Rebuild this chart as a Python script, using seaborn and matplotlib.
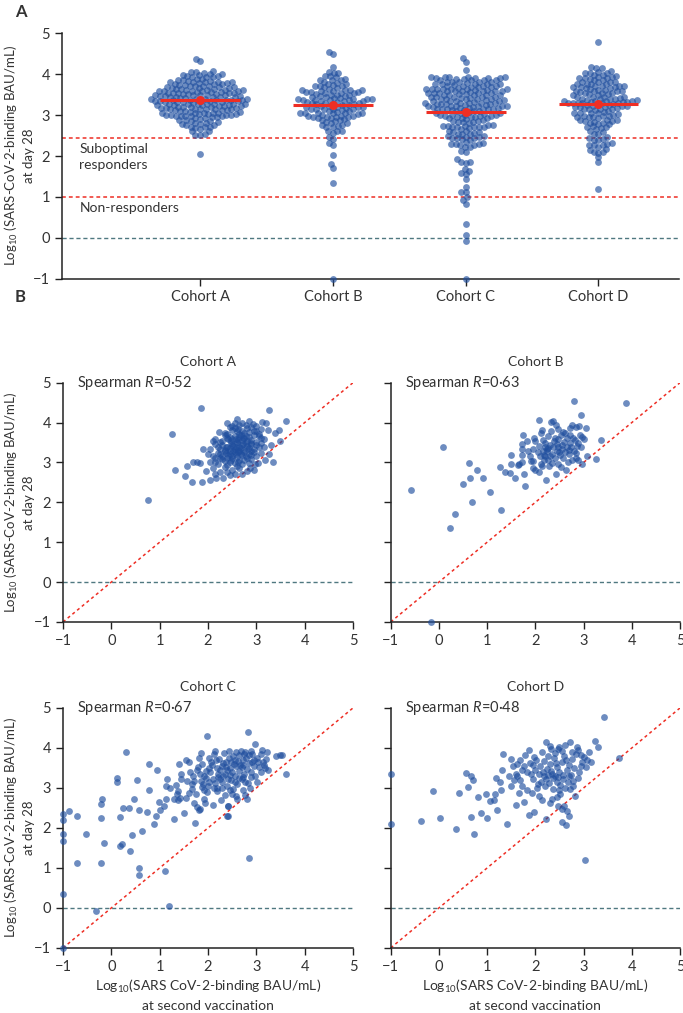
import numpy as np
import pandas as pd
import matplotlib
matplotlib.use("Agg")
import matplotlib.pyplot as plt
import seaborn as sns

cohorts = ["Cohort A", "Cohort B", "Cohort C", "Cohort D"]

# ---------------- data (log10 BAU/mL): second vaccination (x) and day 28 (y) ----------------
a_second = [0.75, 1.26, 1.85, 3.27, 3.62, 1.31, 1.53, 1.66, 1.87, 1.57,
            1.70, 1.78, 1.84, 1.90, 2.22, 2.32, 2.16, 2.70, 2.87, 2.98,
            3.04, 3.18, 3.27, 3.39, 3.46, 3.11, 3.20, 2.56, 2.79, 2.94,
            2.05, 2.45, 1.95, 2.60, 2.40, 3.50, 3.30, 2.10, 2.00, 3.35,
            2.25, 2.50, 2.65, 2.35, 2.80, 2.10, 2.55, 2.95, 2.40, 2.15,
            2.20, 2.45, 2.60, 2.75, 2.30, 2.05, 2.50, 2.85, 2.40, 2.65,
            2.15, 2.55, 2.90, 2.35, 2.70, 2.25, 2.48, 2.62,
            2.10, 2.25, 2.40, 2.55, 2.70, 2.85, 3.00, 2.35, 2.50, 2.65,
            2.80, 2.95, 2.20, 2.45, 2.60, 2.75, 2.90, 3.10, 2.30, 2.58,
            2.68, 2.42, 2.52, 2.78, 2.88, 2.15, 2.62, 2.38,
            2.05, 2.20, 2.35, 2.50, 2.65, 2.80, 2.95, 3.10, 2.30, 2.45,
            2.60, 2.75, 2.90, 3.05, 2.15, 2.40, 2.55, 2.70, 2.85, 3.00,
            2.25, 2.48, 2.58, 2.68, 2.78, 2.38, 2.62, 2.72, 2.52, 2.82,
            2.45, 3.15,
            2.15, 2.30, 2.45, 2.60, 2.75, 2.90, 3.05, 2.35, 2.50, 2.65,
            2.80, 2.95, 3.15, 2.25, 2.40, 2.55, 2.70, 2.85, 3.00, 2.58,
            2.68, 2.48, 2.78, 2.62, 2.72, 2.88, 2.42, 3.10,
            2.35, 2.50, 2.65, 2.80, 2.95, 3.10, 2.45, 2.60, 2.75, 2.90,
            3.05, 2.55, 2.70, 2.85, 3.25, 2.40, 2.62, 3.00,
            2.65, 2.85, 2.70, 2.50, 3.00]
a_day28 = [2.05, 3.71, 4.36, 4.32, 4.05, 2.81, 2.66, 2.52, 2.52, 2.91,
           3.01, 3.02, 2.99, 3.33, 3.76, 2.60, 2.61, 2.70, 2.87, 2.97,
           2.99, 3.06, 3.21, 3.73, 3.81, 4.02, 3.98, 3.99, 3.93, 3.96,
           2.55, 2.68, 2.78, 4.08, 4.00, 3.55, 3.45, 3.55, 3.20, 3.00,
           2.75, 2.80, 2.85, 2.88, 2.78, 2.85, 2.72, 2.82, 2.76, 2.72,
           2.95, 3.00, 2.92, 3.05, 3.08, 3.02, 3.10, 2.98, 2.94, 3.06,
           3.00, 2.98, 3.08, 3.04, 2.95, 3.10, 3.06, 3.02,
           3.15, 3.20, 3.12, 3.25, 3.18, 3.22, 3.15, 3.28, 3.16, 3.28,
           3.12, 3.26, 3.24, 3.22, 3.14, 3.26, 3.18, 3.24, 3.16, 3.20,
           3.22, 3.18, 3.28, 3.15, 3.28, 3.12, 3.26, 3.24,
           3.35, 3.40, 3.32, 3.45, 3.38, 3.42, 3.35, 3.48, 3.44, 3.36,
           3.48, 3.32, 3.46, 3.38, 3.46, 3.40, 3.34, 3.44, 3.36, 3.44,
           3.34, 3.48, 3.40, 3.36, 3.48, 3.38, 3.32, 3.46, 3.42, 3.34,
           3.30, 3.40,
           3.60, 3.55, 3.65, 3.52, 3.62, 3.56, 3.66, 3.68, 3.58, 3.64,
           3.54, 3.68, 3.58, 3.52, 3.62, 3.66, 3.56, 3.64, 3.52, 3.60,
           3.68, 3.54, 3.66, 3.56, 3.62, 3.50, 3.58, 3.62,
           3.75, 3.82, 3.72, 3.86, 3.78, 3.84, 3.88, 3.78, 3.74, 3.88,
           3.72, 3.86, 3.80, 3.76, 3.82, 3.72, 3.84, 3.80,
           3.95, 4.05, 4.00, 3.92, 3.92]

b_second = [2.80, 3.87, 2.94, 2.08, 2.33, 2.36, 2.14, 1.75, 0.09, -0.58,
            0.23, 0.34, 0.68, 0.49, 0.62, 0.65, 0.78, 0.92, 1.06, 1.28,
            1.26, 1.37, 1.48, 1.57, 1.49, 1.50, 1.65, 1.67, 1.73, 1.73,
            1.77, 1.79, 1.72, 1.73, 1.88, 1.91, 1.96, 1.95, 1.95, 1.99,
            2.08, 2.07, 2.12, 2.13, 2.16, 2.21, 2.24, 2.27, 2.22, 2.10,
            2.17, 2.20, 2.27, 2.31, 2.34, 2.41, 2.42, 2.47, 2.48, 2.50,
            2.55, 2.53, 2.58, 2.44, 2.65, 2.69, 2.71, 2.72, 2.77, 2.85,
            2.91, 2.79, 2.82, 2.76, 2.89, 2.96, 2.86, 2.85, 2.97, 3.00,
            3.05, 3.07, 3.25, 3.36, -0.17,
            2.25, 2.30, 2.35, 2.38, 2.45, 2.52, 2.56, 2.60, 2.62, 2.66,
            2.70, 2.74, 2.80, 2.88, 2.92, 2.40, 2.20, 2.15, 2.05, 2.00,
            2.32, 2.48, 2.62, 2.36, 2.58, 2.28, 2.18, 1.85, 2.68, 2.54,
            2.84, 2.95, 2.46, 2.26, 1.98, 2.72, 2.42, 2.12, 1.82, 2.64]
b_day28 = [4.55, 4.49, 4.18, 4.06, 4.02, 4.03, 3.82, 3.70, 3.40, 2.31,
           1.35, 1.71, 2.02, 2.47, 2.99, 2.61, 2.80, 2.62, 2.26, 1.81,
           2.88, 2.75, 2.73, 2.60, 2.97, 3.19, 2.93, 2.96, 3.02, 3.19,
           2.70, 2.42, 3.35, 3.46, 3.16, 3.04, 3.04, 3.35, 2.85, 2.80,
           2.75, 3.42, 2.96, 2.92, 3.57, 3.40, 3.33, 3.36, 2.56, 3.15,
           3.19, 3.15, 3.06, 3.15, 2.98, 3.62, 2.70, 2.96, 3.40, 3.27,
           3.44, 3.70, 3.76, 3.46, 3.40, 3.31, 3.50, 3.87, 3.95, 3.89,
           3.92, 3.61, 3.56, 3.06, 3.06, 2.96, 3.41, 3.23, 3.63, 3.58,
           3.86, 3.15, 3.08, 3.56, -1.00,
           3.28, 3.45, 3.22, 3.55, 3.30, 3.18, 3.35, 3.52, 3.25, 3.62,
           3.20, 3.38, 3.30, 3.50, 3.70, 3.10, 3.50, 3.30, 3.25, 3.55,
           3.78, 3.85, 3.74, 3.38, 3.10, 2.90, 3.05, 3.28, 3.00, 2.88,
           3.12, 3.38, 3.60, 3.66, 3.62, 3.68, 3.95, 3.75, 3.55, 2.82]

c_second = [1.99, 2.83, 0.30, 2.97, 0.79, 0.94, 0.11, 0.11, 0.54, 0.77,
            -0.19, -0.22, -0.88, -0.99, -0.99, -0.71, -0.22, 0.17, 0.25, 0.36,
            0.58, 0.46, 0.74, 0.64, 0.43, 0.89, 0.92, -0.99, -0.99, -0.52,
            -0.16, 0.18, 0.23, 0.38, -0.71, -0.22, 0.58, 0.58, 1.11, 2.84,
            -0.99, -0.32, 1.20, -1.00, 0.98, 1.01, 1.08, 1.13, 1.16, 1.14,
            1.21, 1.30, 1.30, 1.35, 1.37, 1.39, 1.42, 1.34, 1.44, 1.44,
            1.41, 1.55, 1.61, 1.57, 1.51, 1.55, 1.67, 1.71, 1.74, 1.82,
            1.82, 1.80, 1.84, 1.85, 1.87, 1.90, 1.91, 1.92, 1.96, 2.02,
            2.03, 2.10, 2.13, 2.14, 2.16, 2.18, 2.21, 2.25, 2.30, 2.31,
            2.35, 2.37, 2.39, 2.41, 2.42, 2.42, 2.46, 2.47, 2.49, 2.52,
            2.54, 2.56, 2.59, 2.61, 2.64, 2.70, 2.72, 2.73, 2.73, 2.77,
            2.80, 2.77, 2.84, 2.90, 2.92, 2.89, 3.01, 3.04, 3.09, 3.12,
            3.15, 3.20, 3.25, 3.41, 3.49, 3.54, 3.61, 1.77, 1.84, 2.10,
            2.19, 2.42, 2.39,
            1.70, 1.78, 1.88, 1.95, 2.00, 2.05, 2.08, 2.12, 2.15, 2.20,
            2.22, 2.25, 2.28, 2.30, 2.33, 2.36, 2.40, 2.43, 2.45, 2.48,
            2.50, 2.52, 2.55, 2.58, 2.60, 2.62, 2.65, 2.68, 2.70, 2.72,
            2.75, 2.78, 2.80, 2.82, 2.85, 2.88, 2.92, 2.95, 2.98, 3.02,
            3.06, 3.10, 3.14, 3.18, 3.22, 1.60, 1.66, 1.75, 1.92, 1.98,
            2.06, 2.18, 2.26, 2.32, 2.38, 2.46, 2.56, 2.64, 2.74, 2.86,
            1.62, 1.86, 2.02, 2.44, 2.58, 2.66, 2.76, 2.96, 1.72, 1.94]
c_day28 = [4.30, 4.39, 3.91, 4.11, 3.59, 3.44, 3.26, 3.16, 3.21, 2.94,
           2.72, 2.59, 2.43, 2.34, 2.21, 2.29, 2.26, 2.27, 2.50, 2.49,
           2.45, 2.73, 2.41, 1.92, 1.82, 2.10, 2.29, 1.85, 1.67, 1.86,
           1.63, 1.55, 1.59, 1.43, 1.13, 1.13, 1.00, 0.82, 0.92, 1.25,
           0.34, -0.07, 0.06, -1.00, 2.65, 2.46, 2.56, 2.72, 3.22, 3.04,
           2.99, 2.22, 2.73, 2.84, 2.92, 2.69, 2.76, 3.07, 3.34, 3.23,
           3.59, 3.69, 3.64, 3.17, 2.38, 2.76, 2.98, 3.18, 2.13, 2.44,
           3.76, 3.52, 3.36, 3.17, 3.03, 3.11, 2.96, 2.73, 3.42, 3.76,
           3.15, 2.58, 3.01, 3.92, 3.71, 3.50, 3.36, 3.23, 3.01, 3.63,
           2.83, 3.53, 3.44, 2.55, 2.30, 3.22, 3.32, 3.64, 2.86, 2.98,
           3.61, 3.15, 3.90, 2.72, 3.82, 3.53, 3.69, 3.28, 2.96, 2.83,
           2.72, 3.90, 3.82, 3.92, 3.65, 3.28, 3.15, 3.65, 3.40, 3.94,
           3.57, 3.73, 3.44, 3.79, 3.82, 3.82, 3.34, 2.53, 2.47, 3.22,
           3.01, 2.54, 2.31,
           3.30, 3.45, 3.60, 3.25, 3.05, 3.40, 3.58, 3.85, 3.12, 3.28,
           3.72, 3.45, 3.15, 3.55, 3.88, 3.35, 3.05, 3.75, 3.50, 3.20,
           3.40, 3.80, 3.30, 3.55, 3.10, 3.68, 3.42, 3.92, 3.22, 3.58,
           3.35, 3.75, 3.48, 3.12, 3.62, 3.40, 3.85, 3.55, 3.30, 3.75,
           3.52, 3.86, 3.66, 3.50, 3.90, 2.88, 3.10, 2.85, 3.30, 2.90,
           3.65, 2.92, 2.70, 3.30, 3.65, 2.95, 3.70, 3.25, 3.85, 3.00,
           3.40, 3.88, 3.50, 3.92, 2.80, 3.58, 3.15, 3.70, 2.62, 2.62]

d_second = [3.43, -1.00, -1.00, 3.02, 3.74, 3.23, 3.29, 2.71, 2.22, 2.31,
            2.33, 2.49, 2.86, 2.89, 2.14, 1.97, 2.02, 1.32, 1.49, 1.68,
            1.54, 1.63, 1.76, 1.82, 1.90, 1.96, 1.56, 1.63, 1.68, 1.30,
            1.18, 1.27, 1.72, 1.82, 1.93, 2.03, 1.66, 1.77, 1.59, 1.87,
            1.41, 2.13, 2.35, 2.44, 2.52, 2.60, 2.55, 2.65, 2.22, 2.64,
            2.82, 2.72, 2.79, 2.74, 2.94, 2.96, 3.07, 3.16, 3.01, 2.08,
            2.17, 2.22, 2.27, 2.34, 2.40, 0.56, 0.67, 0.70, 0.61, 0.42,
            -0.13, 0.81, 0.97, 1.06, 1.16, 1.14, 1.20, 1.28, -0.38, 0.02,
            0.36, 0.73, 0.67, 0.87, 0.99,
            2.10, 2.18, 2.25, 2.30, 2.38, 2.45, 2.50, 2.55, 2.60, 2.65,
            2.70, 2.75, 2.80, 2.85, 2.90, 2.20, 2.28, 2.36, 2.44, 2.52,
            2.58, 2.62, 2.68, 2.48, 2.12, 2.00, 1.88, 1.78, 1.86, 2.40,
            2.56, 2.64, 2.76, 2.95, 3.05, 3.12, 2.32, 2.42, 2.58, 2.70,
            2.05, 1.95, 1.72, 1.60, 1.45, 2.26, 2.46, 2.62, 2.16, 2.36,
            2.50, 2.78, 2.88, 1.50, 2.08, 2.30, 2.46, 2.70, 2.56, 1.98]
d_day28 = [4.78, 3.35, 2.09, 1.19, 3.75, 4.17, 4.02, 4.16, 4.14, 4.06,
           3.97, 4.03, 4.02, 3.94, 3.91, 3.77, 3.69, 3.86, 3.72, 3.70,
           3.54, 3.60, 3.56, 3.40, 3.35, 3.22, 3.19, 3.29, 3.19, 3.44,
           3.24, 3.16, 3.04, 2.95, 2.88, 2.99, 2.88, 2.65, 2.58, 2.32,
           2.09, 2.70, 2.73, 2.78, 2.85, 2.55, 2.47, 2.42, 2.23, 2.08,
           2.81, 2.97, 3.18, 3.33, 3.55, 3.66, 3.69, 3.66, 3.77, 3.34,
           3.29, 3.22, 3.33, 3.35, 3.29, 3.38, 3.29, 3.19, 3.02, 2.88,
           2.92, 2.78, 2.86, 2.68, 2.84, 2.70, 2.44, 2.95, 2.18, 2.26,
           1.97, 1.86, 2.28, 2.38, 2.26,
           3.55, 3.68, 3.48, 3.60, 3.75, 3.52, 3.40, 3.65, 3.80, 3.45,
           3.58, 3.72, 3.50, 3.85, 3.40, 3.05, 3.12, 2.98, 3.15, 3.08,
           3.22, 3.00, 3.15, 3.28, 3.15, 3.45, 3.62, 3.82, 3.95, 3.88,
           3.92, 3.70, 3.90, 3.82, 3.52, 3.90, 3.42, 3.62, 3.32, 3.30,
           3.10, 3.58, 3.45, 3.36, 3.30, 3.80, 3.98, 4.08, 3.40, 3.25,
           2.95, 3.05, 3.25, 3.05, 2.80, 2.62, 2.55, 2.30, 2.15, 2.40]

medians = [3.37, 3.25, 3.07, 3.28]
spearman_r = ["0·52", "0·63", "0·67", "0·48"]
suboptimal_cut = 2.45
nonresponder_cut = 1.0

# ---------------- style ----------------
sns.set_theme(style="ticks")
plt.rcParams["font.family"] = ["Lato", "DejaVu Sans"]
plt.rcParams["mathtext.fontset"] = "custom"
plt.rcParams["mathtext.rm"] = "Lato"
plt.rcParams["mathtext.it"] = "Lato:italic"
plt.rcParams["mathtext.bf"] = "Lato:bold"
plt.rcParams["axes.edgecolor"] = "#222222"
plt.rcParams["xtick.color"] = "#222222"
plt.rcParams["ytick.color"] = "#222222"

pt_color = "#1f4e9e"
pt_alpha = 0.65
red = "#ee2e24"
teal = "#4f7880"
txt = "#333333"
fs = 10.5
fl = 10
fy = 9.5

seconds = [a_second, b_second, c_second, d_second]
day28s = [a_day28, b_day28, c_day28, d_day28]
df = pd.concat([pd.DataFrame({"cohort": c, "second": s, "day28": d})
                for c, s, d in zip(cohorts, seconds, day28s)], ignore_index=True)

ylab = "Log$_{10}$ (SARS-CoV-2-binding BAU/mL)\nat day 28"
xlab = "Log$_{10}$(SARS CoV-2-binding BAU/mL)\nat second vaccination"

fig = plt.figure(figsize=(6.83, 10.13), dpi=100)

# ---------------- panel A ----------------
axA = fig.add_axes([0.0908, 0.7249, 0.904, 0.2422])
sns.swarmplot(data=df, x="cohort", y="day28", order=cohorts, color=pt_color,
              size=3.3, alpha=pt_alpha, linewidth=0, ax=axA, zorder=3)
axA.axhline(suboptimal_cut, color=red, ls=(0, (2.5, 2)), lw=1.1, zorder=1)
axA.axhline(nonresponder_cut, color=red, ls=(0, (2.5, 2)), lw=1.1, zorder=1)
axA.axhline(0, color=teal, ls=(0, (3, 2)), lw=1.0, zorder=1)
for i, m in enumerate(medians):
    axA.hlines(m, i - 0.3, i + 0.3, color=red, lw=2.2, zorder=5)
axA.scatter(range(len(medians)), medians, s=42, color=red, zorder=6, linewidth=0)
axA.set_xlim(-1.04, 3.61)
axA.set_ylim(-1, 5)
axA.set_yticks(range(-1, 6))
axA.set_xlabel("")
axA.set_ylabel(ylab, fontsize=fy, color=txt, linespacing=1.3)
axA.yaxis.set_label_coords(-0.044, 0.5)
axA.text(-0.91, 1.97, "Suboptimal\nresponders", fontsize=fl, color=txt, va="center",
         ha="left", linespacing=1.4)
axA.text(-0.91, 0.73, "Non-responders", fontsize=fl, color=txt, va="center", ha="left")
axA.tick_params(labelsize=fs, colors="#222222", labelcolor=txt, length=5, width=1)
sns.despine(ax=axA)
for sp in axA.spines.values():
    sp.set_linewidth(1.1)

# ---------------- panel B ----------------
positions = [[0.0922, 0.3860, 0.4246, 0.2362],
             [0.5720, 0.3860, 0.4236, 0.2362],
             [0.0922, 0.0642, 0.4246, 0.2369],
             [0.5720, 0.0642, 0.4236, 0.2369]]
for k, (c, pos) in enumerate(zip(cohorts, positions)):
    ax = fig.add_axes(pos)
    sub = df[df["cohort"] == c]
    ax.plot([-1, 5], [-1, 5], color=red, ls=(0, (2, 2)), lw=1.1, zorder=1)
    ax.axhline(0, color=teal, ls=(0, (3, 2)), lw=1.0, zorder=1)
    sns.scatterplot(data=sub, x="second", y="day28", color=pt_color, s=24,
                    alpha=pt_alpha, linewidth=0, ax=ax, clip_on=False, zorder=3)
    ax.set_xlim(-1, 5)
    ax.set_ylim(-1, 5)
    ax.set_xticks(range(-1, 6))
    ax.set_yticks(range(-1, 6))
    ax.set_title(c, fontsize=fl, color=txt, pad=12)
    ax.text(0.05, 1.0, "Spearman $\\mathit{R}$=" + spearman_r[k], transform=ax.transAxes,
            fontsize=10.5, color=txt, va="center", ha="left")
    ax.tick_params(labelsize=fs, colors="#222222", labelcolor=txt, length=5, width=1)
    if k % 2 == 1:
        ax.set_yticklabels([])
        ax.set_ylabel("")
    else:
        ax.set_ylabel(ylab, fontsize=fy, color=txt, linespacing=1.3)
        ax.yaxis.set_label_coords(-0.097, 0.5)
    if k >= 2:
        ax.set_xlabel(xlab, fontsize=fl, color=txt, labelpad=3, linespacing=1.5)
    else:
        ax.set_xlabel("")
    sns.despine(ax=ax)
    for sp in ax.spines.values():
        sp.set_linewidth(1.1)

fig.text(0.022, 0.988, "A", fontsize=12, fontweight="bold", color=txt, va="center")
fig.text(0.022, 0.707, "B", fontsize=12, fontweight="bold", color=txt, va="center")

# lay out the swarm with compact markers, then enlarge markers so they overlap as in the original
fig.canvas.draw()
for coll in axA.collections[:4]:
    if "draw" in coll.__dict__:
        del coll.__dict__["draw"]
    coll.set_sizes([24])
    coll.set_clip_on(False)

fig.savefig("out.png", dpi=100)
